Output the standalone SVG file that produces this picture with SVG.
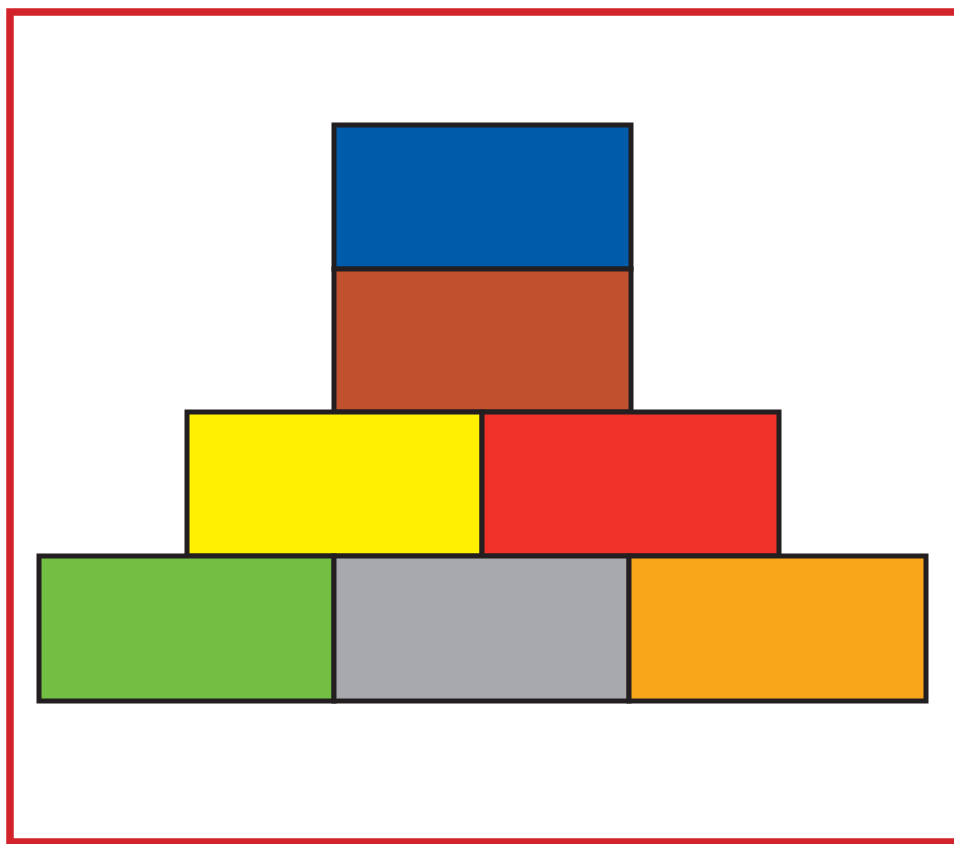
<svg xmlns="http://www.w3.org/2000/svg" width="954" height="844" viewBox="0 0 954 844">
<style>
.b{stroke:#231f20;stroke-width:5;stroke-linejoin:miter}
</style>
<rect x="0" y="0" width="954" height="844" fill="#ffffff"/>
<rect id="frame" x="10" y="12" width="960" height="830" fill="none" stroke="#d2232a" stroke-width="7.5"/>
<g id="blue"><rect class="b" x="334" y="125" width="297" height="144" fill="#005baa"/></g>
<g id="brown"><rect class="b" x="334" y="269" width="297" height="143" fill="#c1502e"/></g>
<g id="yellow"><rect class="b" x="187" y="412" width="295" height="144" fill="#fff100"/></g>
<g id="red"><rect class="b" x="482" y="412" width="297" height="144" fill="#ef3129"/></g>
<g id="green"><rect class="b" x="39" y="556" width="295" height="145" fill="#72bf44"/></g>
<g id="gray"><rect class="b" x="334" y="556" width="295" height="145" fill="#a7a9ac"/></g>
<g id="orange"><rect class="b" x="629" y="556" width="297" height="145" fill="#faa61a"/></g>
</svg>
